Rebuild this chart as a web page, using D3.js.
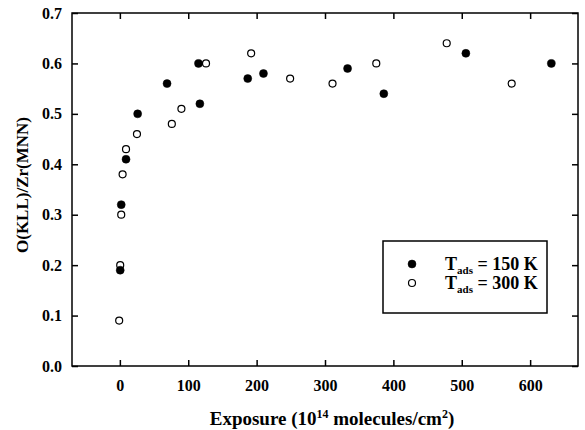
<!DOCTYPE html>
<html>
<head>
<meta charset="utf-8">
<script src="https://cdn.jsdelivr.net/npm/d3@7"></script>
<style>
    body { margin: 0; background: #fff; }
    svg text { font-family: "Times New Roman", "Liberation Serif", Times, serif !important; font-weight: bold; }
</style>
</head>
<body>
<script>
// exposure (10^14 molecules/cm^2) and O(KLL)/Zr(MNN) ratio
var exposure150 = [0.5, 2, 9, 26, 69, 115, 117, 187, 210, 333, 386, 506, 631];
var ratio150    = [0.19, 0.32, 0.41, 0.50, 0.56, 0.60, 0.52, 0.57, 0.58, 0.59, 0.54, 0.62, 0.60];

var exposure300 = [-1, 0.5, 2, 4, 9, 25, 76, 90, 126, 192, 249, 311, 375, 478, 573];
var ratio300    = [0.09, 0.20, 0.30, 0.38, 0.43, 0.46, 0.48, 0.51, 0.60, 0.62, 0.57, 0.56, 0.60, 0.64, 0.56];

var xTicks = [0, 100, 200, 300, 400, 500, 600];
var yTicks = [0, 0.1, 0.2, 0.3, 0.4, 0.5, 0.6, 0.7];

window.document.addEventListener('DOMContentLoaded', init, false);

function init() {
    var svg = d3.select('body').append('svg')
        .attr('width', 585)
        .attr('height', 430);

    var x = d3.scaleLinear().domain([-70, 670]).range([72, 578]);
    var y = d3.scaleLinear().domain([0, 0.7]).range([366, 13]);

    drawAxes(svg, x, y);
    drawPoints(svg, x, y, exposure300, ratio300, false);
    drawPoints(svg, x, y, exposure150, ratio150, true);
    drawLegend(svg);
}

function drawAxes(svg, x, y) {
    var tickLen = 6;

    svg.append('g')
        .attr('transform', 'translate(0,366)')
        .call(d3.axisBottom(x).tickValues(xTicks).tickSizeInner(-tickLen).tickSizeOuter(0).tickPadding(14).tickFormat(d3.format('d')))
        .call(styleAxis);
    svg.append('g')
        .attr('transform', 'translate(0,13)')
        .call(d3.axisTop(x).tickValues(xTicks).tickSizeInner(-tickLen).tickSizeOuter(0).tickFormat(''))
        .call(styleAxis);
    svg.append('g')
        .attr('transform', 'translate(72,0)')
        .call(d3.axisLeft(y).tickValues(yTicks).tickSizeInner(-tickLen).tickSizeOuter(0).tickPadding(10).tickFormat(d3.format('.1f')))
        .call(styleAxis);
    svg.append('g')
        .attr('transform', 'translate(578,0)')
        .call(d3.axisRight(y).tickValues(yTicks).tickSizeInner(-tickLen).tickSizeOuter(0).tickFormat(''))
        .call(styleAxis);

    svg.append('rect')
        .attr('x', 72)
        .attr('y', 13)
        .attr('width', 506)
        .attr('height', 353)
        .attr('fill', 'none')
        .attr('stroke', 'black')
        .attr('stroke-width', 1.5);

    var xTitle = svg.append('text')
        .attr('x', 332)
        .attr('y', 425)
        .attr('font-size', 19)
        .attr('text-anchor', 'middle');
    xTitle.append('tspan').text('Exposure (10');
    xTitle.append('tspan').attr('dy', -7).attr('font-size', 12).text('14');
    xTitle.append('tspan').attr('dy', 7).text(' molecules/cm');
    xTitle.append('tspan').attr('dy', -7).attr('font-size', 12).text('2');
    xTitle.append('tspan').attr('dy', 7).text(')');

    svg.append('text')
        .attr('transform', 'translate(28,185) rotate(-90)')
        .attr('font-size', 17)
        .attr('text-anchor', 'middle')
        .text('O(KLL)/Zr(MNN)');
}

function styleAxis(g) {
    g.select('.domain').remove();
    g.selectAll('.tick line')
        .attr('stroke', 'black')
        .attr('stroke-width', 1.5);
    g.selectAll('.tick text')
        .attr('fill', 'black')
        .attr('font-size', 16);
}

function drawPoints(svg, x, y, xs, ys, filled) {
    svg.append('g').selectAll('circle')
        .data(d3.range(xs.length))
        .enter()
            .append('circle')
            .attr('cx', (i) => x(xs[i]))
            .attr('cy', (i) => y(ys[i]))
            .attr('r', filled ? 4 : 3.5)
            .attr('fill', filled ? 'black' : 'white')
            .attr('stroke', 'black')
            .attr('stroke-width', filled ? 0.5 : 1.2);
}

function drawLegend(svg) {
    var g = svg.append('g').attr('transform', 'translate(383,241)');

    g.append('rect')
        .attr('width', 164)
        .attr('height', 72)
        .attr('fill', 'white')
        .attr('stroke', 'black')
        .attr('stroke-width', 1.5);

    var items = [
        {label: '150 K', filled: true, cy: 23},
        {label: '300 K', filled: false, cy: 42}
    ];

    items.forEach((d) => {
        g.append('circle')
            .attr('cx', 29)
            .attr('cy', d.cy)
            .attr('r', d.filled ? 4 : 3.5)
            .attr('fill', d.filled ? 'black' : 'white')
            .attr('stroke', 'black')
            .attr('stroke-width', d.filled ? 0.5 : 1.2);

        var t = g.append('text')
            .attr('x', 62)
            .attr('y', d.cy + 6)
            .attr('font-size', 18);
        t.append('tspan').text('T');
        t.append('tspan').attr('dy', 4).attr('font-size', 11).text('ads');
        t.append('tspan').attr('dy', -4).text(' = ' + d.label);
    });
}
</script>
</body>
</html>
